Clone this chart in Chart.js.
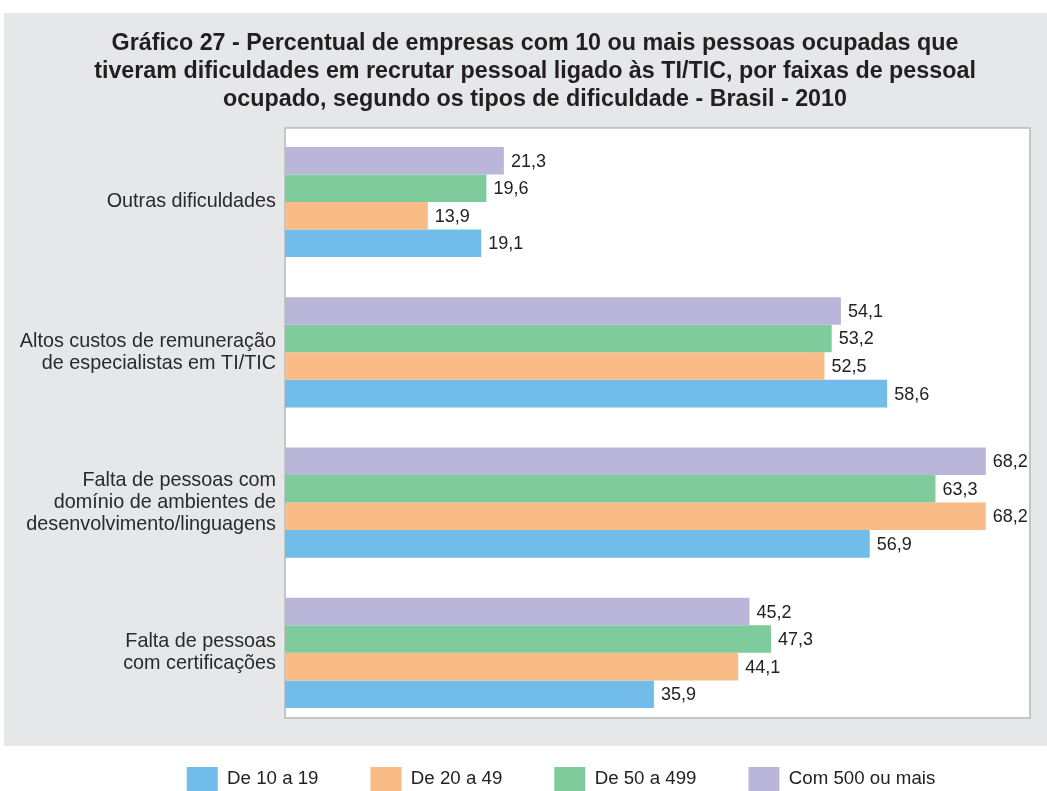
<!DOCTYPE html>
<html>
<head>
<meta charset="utf-8">
<script src="https://cdn.jsdelivr.net/npm/chart.js@4.4.1/dist/chart.umd.min.js"></script>
<style>
  html, body { margin: 0; padding: 0; background: #ffffff; }
  #wrap { width: 1047px; height: 791px; position: relative; }
</style>
</head>
<body>
<div id="wrap"><canvas id="c" width="1047" height="791"></canvas></div>
<script>
const titleLines = [
  "Gráfico 27 - Percentual de empresas com 10 ou mais pessoas ocupadas que",
  "tiveram dificuldades em recrutar pessoal ligado às TI/TIC, por faixas de pessoal",
  "ocupado, segundo os tipos de dificuldade - Brasil - 2010"
];
const categories = [
  ["Outras dificuldades"],
  ["Altos custos de remuneração", "de especialistas em TI/TIC"],
  ["Falta de pessoas com", "domínio de ambientes de", "desenvolvimento/linguagens"],
  ["Falta de pessoas", "com certificações"]
];
const seriesNames = ["De 10 a 19", "De 20 a 49", "De 50 a 499", "Com 500 ou mais"];
const seriesColors = ["#71bce8", "#f9bc86", "#80cb9b", "#bab6da"];
const de10a19 = [19.1, 58.6, 56.9, 35.9];
const de20a49 = [13.9, 52.5, 68.2, 44.1];
const de50a499 = [19.6, 53.2, 63.3, 47.3];
const com500 = [21.3, 54.1, 68.2, 45.2];
const xMax = 72.5;

const seriesValues = [de10a19, de20a49, de50a499, com500];
// draw order top-to-bottom within a group: largest company size on top
const datasets = [3, 2, 1, 0].map(i => ({
  label: seriesNames[i],
  data: seriesValues[i],
  backgroundColor: seriesColors[i],
  borderWidth: 0
}));

const bgPlugin = {
  id: 'bg',
  beforeDraw(chart) {
    const ctx = chart.ctx;
    const ca = chart.chartArea;
    ctx.save();
    ctx.fillStyle = '#ffffff';
    ctx.fillRect(0, 0, chart.width, chart.height);
    ctx.fillStyle = '#e6e7e9';
    ctx.fillRect(4, 13, chart.width - 4, 733);
    ctx.fillStyle = '#ffffff';
    const frameBottom = ca.bottom - 10;
    ctx.fillRect(ca.left, ca.top + 1, ca.right - ca.left, frameBottom - ca.top - 1);
    ctx.strokeStyle = '#c6c6c8';
    ctx.lineWidth = 2;
    ctx.strokeRect(ca.left, ca.top + 1, ca.right - ca.left, frameBottom - ca.top - 1);
    ctx.restore();
  }
};

const labelPlugin = {
  id: 'vals',
  afterDatasetsDraw(chart) {
    const ctx = chart.ctx;
    ctx.save();
    ctx.font = '18px "Liberation Sans", Arial, sans-serif';
    ctx.fillStyle = '#222222';
    ctx.textAlign = 'left';
    ctx.textBaseline = 'middle';
    chart.data.datasets.forEach((ds, di) => {
      const meta = chart.getDatasetMeta(di);
      meta.data.forEach((bar, i) => {
        const v = ds.data[i];
        ctx.fillText(v.toFixed(1).replace('.', ','), bar.x + 7, bar.y + 1);
      });
    });
    ctx.restore();
  }
};

const boxShift = {
  id: 'boxShift',
  afterLayout(chart) {
    const lg = chart.legend;
    if (lg) {
      lg.left += 46; lg.right += 46;
      lg.top -= 13; lg.bottom -= 13;
    }
    const tt = chart.titleBlock;
    if (tt) { tt.left += 20; tt.right += 20; }
  }
};

new Chart(document.getElementById('c'), {
  type: 'bar',
  data: { labels: categories, datasets },
  plugins: [bgPlugin, labelPlugin, boxShift],
  options: {
    indexAxis: 'y',
    responsive: false,
    animation: false,
    devicePixelRatio: 1,
    layout: { padding: { left: 0, right: 17, top: 0, bottom: -23 } },
    categoryPercentage: 0.733,
    barPercentage: 1.0,
    scales: {
      x: {
        display: false,
        min: 0,
        max: xMax
      },
      y: {
        grid: { display: false, drawTicks: false },
        border: { display: false },
        ticks: {
          padding: 9,
          color: '#2a2a2a',
          font: { family: '"Liberation Sans", Arial, sans-serif', size: 19.8, lineHeight: 1.1 }
        },
        afterFit(scale) { scale.width = 285; }
      }
    },
    plugins: {
      title: {
        display: true,
        text: titleLines,
        color: '#231f20',
        font: { family: '"Liberation Sans", Arial, sans-serif', size: 23.3, weight: 'bold', lineHeight: 1.2 },
        padding: { top: 30, bottom: 13 }
      },
      legend: {
        display: true,
        position: 'bottom',
        reverse: true,
        labels: {
          boxWidth: 31,
          boxHeight: 24,
          padding: 52,
          color: '#222222',
          font: { family: '"Liberation Sans", Arial, sans-serif', size: 18.7 }
        }
      },
      tooltip: { enabled: false }
    }
  }
});
</script>
</body>
</html>
